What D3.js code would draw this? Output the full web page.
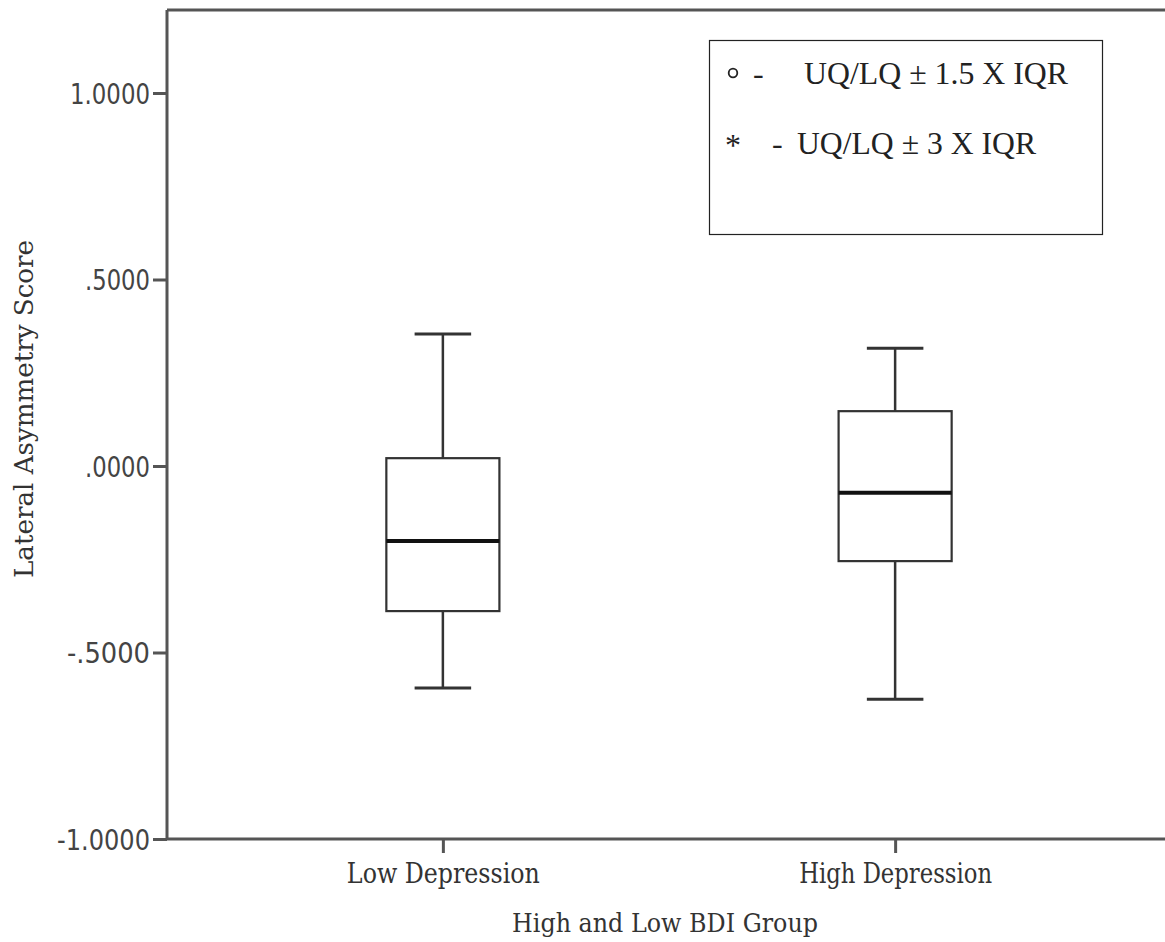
<!DOCTYPE html>
<html>
<head>
<meta charset="utf-8">
<script src="https://cdn.jsdelivr.net/npm/d3@7"></script>
<style>
  html, body { margin: 0; padding: 0; background: #fff; }
  svg { display: block; }
</style>
</head>
<body>
<svg id="chart" width="1165" height="942"></svg>
<script>
// Groups and five-number summaries of the lateral asymmetry score
const groups = ["Low Depression", "High Depression"];
const whiskerLow  = [-0.595, -0.625];
const quartile1   = [-0.389, -0.255];
const medians     = [-0.201, -0.072];
const quartile3   = [ 0.021,  0.147];
const whiskerHigh = [ 0.354,  0.316];

const yTicks = [-1, -0.5, 0, 0.5, 1];
const yTickLabels = ["-1.0000", "-.5000", ".0000", ".5000", "1.0000"];

const xTitle = "High and Low BDI Group";
const yTitle = "Lateral Asymmetry Score";
const legendLines = [
  { sym: "\u25E6", text: "UQ/LQ \u00B1 1.5 X IQR" },
  { sym: "*", text: "UQ/LQ \u00B1 3 X IQR" }
];

const svg = d3.select("#chart");
const left = 167, bottom = 839, topY = 10, right = 1165;

const y = d3.scaleLinear().domain([-1, 1]).range([bottom, 93]);
const x = d3.scalePoint().domain(groups).range([left, 1171]).padding(0.61);
const boxW = x.step() * 0.25;
const capW = boxW / 2;

const axisColor = "#555";
const sansFont = "'DejaVu Sans', sans-serif";
const serifFont = "'DejaVu Serif', serif";

// frame: top rule
svg.append("line")
  .attr("x1", left).attr("x2", right).attr("y1", topY).attr("y2", topY)
  .attr("stroke", axisColor).attr("stroke-width", 3);

// y axis
const yAxis = svg.append("g").attr("transform", `translate(${left},0)`)
  .call(d3.axisLeft(y).tickValues(yTicks).tickSize(14).tickFormat((d, i) => yTickLabels[i]));
yAxis.select(".domain").attr("d", `M0,${topY}V${bottom}`).attr("stroke", axisColor).attr("stroke-width", 3);
yAxis.selectAll(".tick line").attr("stroke", axisColor).attr("stroke-width", 3);
const tickWidths = { "-1.0000": 93, "-.5000": 83, ".0000": 65, ".5000": 65, "1.0000": 80 };
yAxis.selectAll(".tick text")
  .attr("x", -17).attr("dy", "0.36em")
  .attr("font-family", sansFont).attr("font-size", 28).attr("fill", "#444")
  .attr("textLength", d => tickWidths[yTickLabels[yTicks.indexOf(d)]])
  .attr("lengthAdjust", "spacingAndGlyphs");

// x axis
const xAxis = svg.append("g").attr("transform", `translate(0,${bottom})`)
  .call(d3.axisBottom(x).tickSize(14));
xAxis.select(".domain").attr("d", `M${left},0H${right}`).attr("stroke", axisColor).attr("stroke-width", 3);
xAxis.selectAll(".tick line").attr("stroke", axisColor).attr("stroke-width", 3);
xAxis.selectAll(".tick text")
  .attr("y", 44).attr("dy", 0)
  .attr("font-family", serifFont).attr("font-size", 27).attr("fill", "#333")
  .attr("textLength", 193).attr("lengthAdjust", "spacingAndGlyphs");

// axis titles
svg.append("text")
  .attr("x", 665).attr("y", 932).attr("text-anchor", "middle")
  .attr("font-family", serifFont).attr("font-size", 26).attr("fill", "#333")
  .attr("textLength", 306).attr("lengthAdjust", "spacingAndGlyphs")
  .text(xTitle);
svg.append("text")
  .attr("transform", "translate(33,409) rotate(-90)").attr("text-anchor", "middle")
  .attr("font-family", serifFont).attr("font-size", 26).attr("fill", "#333")
  .attr("textLength", 338).attr("lengthAdjust", "spacingAndGlyphs")
  .text(yTitle);

// boxes
const boxes = svg.append("g").selectAll("g").data(groups).join("g")
  .attr("transform", d => `translate(${x(d)},0)`);
const lineColor = "#333";
boxes.append("line") // whisker stem
  .attr("x1", 0).attr("x2", 0)
  .attr("y1", (d, i) => y(whiskerHigh[i])).attr("y2", (d, i) => y(whiskerLow[i]))
  .attr("stroke", lineColor).attr("stroke-width", 2.5);
boxes.append("rect")
  .attr("x", -boxW / 2).attr("width", boxW)
  .attr("y", (d, i) => y(quartile3[i]))
  .attr("height", (d, i) => y(quartile1[i]) - y(quartile3[i]))
  .attr("fill", "#fff").attr("stroke", lineColor).attr("stroke-width", 2.2);
boxes.append("line") // median
  .attr("x1", -boxW / 2).attr("x2", boxW / 2)
  .attr("y1", (d, i) => y(medians[i])).attr("y2", (d, i) => y(medians[i]))
  .attr("stroke", "#111").attr("stroke-width", 4);
["high", "low"].forEach(k => {
  boxes.append("line")
    .attr("x1", -capW / 2).attr("x2", capW / 2)
    .attr("y1", (d, i) => y(k === "high" ? whiskerHigh[i] : whiskerLow[i]))
    .attr("y2", (d, i) => y(k === "high" ? whiskerHigh[i] : whiskerLow[i]))
    .attr("stroke", lineColor).attr("stroke-width", 3);
});

// legend
const legend = svg.append("g");
legend.append("rect")
  .attr("x", 709.5).attr("y", 40.5).attr("width", 393).attr("height", 194)
  .attr("fill", "#fff").attr("stroke", "#222").attr("stroke-width", 1.2);
const serifLegend = "'Liberation Serif', 'Times New Roman', serif";
// line 1: small circle marker
legend.append("circle").attr("cx", 733).attr("cy", 73).attr("r", 4.3)
  .attr("fill", "none").attr("stroke", "#222").attr("stroke-width", 1.8);
legend.append("text").attr("x", 753).attr("y", 84)
  .attr("font-family", serifLegend).attr("font-size", 32).attr("fill", "#222").text("-");
legend.append("text").attr("x", 804).attr("y", 84)
  .attr("font-family", serifLegend).attr("font-size", 32).attr("fill", "#222")
  .attr("textLength", 264).attr("lengthAdjust", "spacingAndGlyphs")
  .text(legendLines[0].text);
// line 2: asterisk marker
legend.append("text").attr("x", 733).attr("y", 156).attr("text-anchor", "middle")
  .attr("font-family", serifLegend).attr("font-size", 32).attr("fill", "#222").text(legendLines[1].sym);
legend.append("text").attr("x", 772).attr("y", 154)
  .attr("font-family", serifLegend).attr("font-size", 32).attr("fill", "#222").text("-");
legend.append("text").attr("x", 797).attr("y", 154)
  .attr("font-family", serifLegend).attr("font-size", 32).attr("fill", "#222")
  .attr("textLength", 239).attr("lengthAdjust", "spacingAndGlyphs")
  .text(legendLines[1].text);
</script>
</body>
</html>
